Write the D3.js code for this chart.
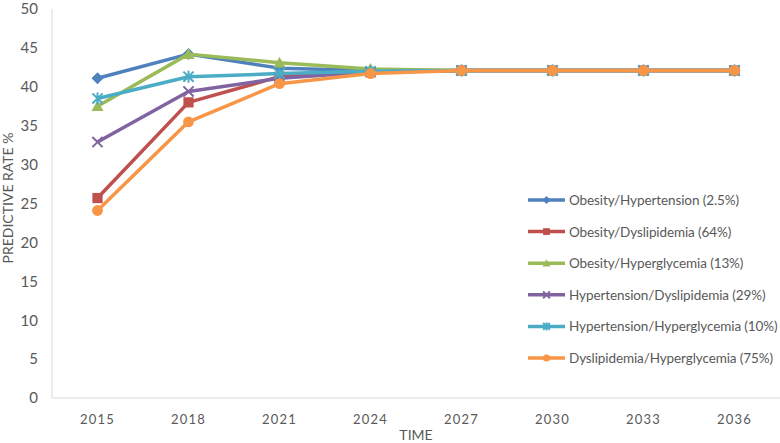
<!DOCTYPE html>
<html>
<head>
<meta charset="utf-8">
<script src="https://cdn.jsdelivr.net/npm/d3@7"></script>
<style>
  body { margin: 0; background: #fff; }
  text { font-family: Lato, "Open Sans", sans-serif; fill: #595959; }
</style>
</head>
<body>
<svg id="chart" width="780" height="443"></svg>
<script>
// chart data
var years = ["2015", "2018", "2021", "2024", "2027", "2030", "2033", "2036"];
var seriesNames = [
  "Obesity/Hypertension (2.5%)",
  "Obesity/Dyslipidemia (64%)",
  "Obesity/Hyperglycemia (13%)",
  "Hypertension/Dyslipidemia (29%)",
  "Hypertension/Hyperglycemia (10%)",
  "Dyslipidemia/Hyperglycemia (75%)"
];
var obesityHypertension = [41.1, 44.2, 42.4, 42.1, 42.1, 42.1, 42.1, 42.1];
var obesityDyslipidemia = [25.7, 38.0, 41.3, 41.9, 42.1, 42.1, 42.1, 42.1];
var obesityHyperglycemia = [37.5, 44.2, 43.1, 42.3, 42.1, 42.1, 42.1, 42.1];
var hypertensionDyslipidemia = [32.9, 39.4, 41.1, 41.9, 42.1, 42.1, 42.1, 42.1];
var hypertensionHyperglycemia = [38.5, 41.3, 41.7, 42.0, 42.1, 42.1, 42.1, 42.1];
var dyslipidemiaHyperglycemia = [24.1, 35.5, 40.4, 41.7, 42.1, 42.1, 42.1, 42.1];
var yTicks = [0, 5, 10, 15, 20, 25, 30, 35, 40, 45, 50];

var allValues = [obesityHypertension, obesityDyslipidemia, obesityHyperglycemia,
  hypertensionDyslipidemia, hypertensionHyperglycemia, dyslipidemiaHyperglycemia];
var colors = ["#4F81BD", "#C0504D", "#9BBB59", "#8064A2", "#4BACC6", "#F79646"];
var symbols = ["diamond", "square", "triangle", "x", "asterisk", "circle"];

var plotLeft = 52, plotRight = 780, plotTop = 9, plotBottom = 398;

var svg = d3.select("#chart");

var xScale = d3.scaleBand().domain(years).range([plotLeft, plotRight]);
var yScale = d3.scaleLinear().domain([0, 50]).range([plotBottom, plotTop]);

// axes
svg.append("line")
  .attr("x1", plotLeft).attr("x2", plotLeft)
  .attr("y1", plotTop).attr("y2", plotBottom)
  .attr("stroke", "#d9d9d9").attr("stroke-width", 1);
svg.append("line")
  .attr("x1", plotLeft).attr("x2", plotRight)
  .attr("y1", plotBottom).attr("y2", plotBottom)
  .attr("stroke", "#d9d9d9").attr("stroke-width", 1);

var yAxis = svg.append("g")
  .attr("transform", "translate(" + plotLeft + ",0)")
  .call(d3.axisLeft(yScale).tickValues(yTicks).tickSize(0).tickPadding(14));
yAxis.select(".domain").remove();
yAxis.selectAll("text")
  .style("font-size", "15px")
  .style("font-family", "Lato, sans-serif")
  .attr("fill", "#595959");

var xAxis = svg.append("g")
  .attr("transform", "translate(0," + plotBottom + ")")
  .call(d3.axisBottom(xScale).tickSize(0).tickPadding(17));
xAxis.select(".domain").remove();
xAxis.selectAll("text")
  .style("font-size", "13px")
  .style("letter-spacing", "1.2px")
  .style("font-family", "Lato, sans-serif")
  .attr("fill", "#595959");

svg.append("text")
  .attr("x", (plotLeft + plotRight) / 2).attr("y", 440)
  .attr("text-anchor", "middle")
  .style("font-size", "14px")
  .text("TIME");

svg.append("text")
  .attr("transform", "translate(13,198) rotate(-90)")
  .attr("text-anchor", "middle")
  .style("font-size", "14px")
  .text("PREDICTIVE RATE %");

function drawMarker(g, type, x, y, size, color) {
  var s = size;
  if (type === "diamond") {
    g.append("path")
      .attr("d", "M" + x + "," + (y - s) + "L" + (x + s) + "," + y + "L" + x + "," + (y + s) + "L" + (x - s) + "," + y + "Z")
      .attr("fill", color);
  } else if (type === "square") {
    g.append("rect").attr("x", x - s * 0.85).attr("y", y - s * 0.85)
      .attr("width", s * 1.7).attr("height", s * 1.7).attr("fill", color);
  } else if (type === "triangle") {
    g.append("path")
      .attr("d", "M" + x + "," + (y - s) + "L" + (x + s) + "," + (y + s * 0.8) + "L" + (x - s) + "," + (y + s * 0.8) + "Z")
      .attr("fill", color);
  } else if (type === "x") {
    var d = s * 0.85;
    g.append("path")
      .attr("d", "M" + (x - d) + "," + (y - d) + "L" + (x + d) + "," + (y + d) + "M" + (x + d) + "," + (y - d) + "L" + (x - d) + "," + (y + d))
      .attr("stroke", color).attr("stroke-width", 2).attr("fill", "none");
  } else if (type === "asterisk") {
    var a = s * 0.85;
    g.append("path")
      .attr("d", "M" + (x - a) + "," + (y - a) + "L" + (x + a) + "," + (y + a) + "M" + (x + a) + "," + (y - a) + "L" + (x - a) + "," + (y + a) +
        "M" + x + "," + (y - s) + "L" + x + "," + (y + s))
      .attr("stroke", color).attr("stroke-width", 2).attr("fill", "none");
  } else {
    g.append("circle").attr("cx", x).attr("cy", y).attr("r", s * 0.9).attr("fill", color);
  }
}

var line = d3.line()
  .x(function(d, i) { return xScale(years[i]) + xScale.bandwidth() / 2; })
  .y(function(d) { return yScale(d); });

allValues.forEach(function(vals, k) {
  var g = svg.append("g");
  g.append("path")
    .datum(vals)
    .attr("d", line)
    .attr("fill", "none")
    .attr("stroke", colors[k])
    .attr("stroke-width", 3.5)
    .attr("stroke-linejoin", "round");
  vals.forEach(function(v, i) {
    drawMarker(g, symbols[k], xScale(years[i]) + xScale.bandwidth() / 2, yScale(v), 6, colors[k]);
  });
});

// legend
var legend = svg.append("g").attr("transform", "translate(528,200)");
seriesNames.forEach(function(name, k) {
  var row = legend.append("g").attr("transform", "translate(0," + (k * 31.6) + ")");
  row.append("line").attr("x1", 0).attr("x2", 37).attr("y1", 0).attr("y2", 0)
    .attr("stroke", colors[k]).attr("stroke-width", 3.5);
  drawMarker(row, symbols[k], 18.5, 0, 4, colors[k]);
  row.append("text").attr("x", 41).attr("y", 5)
    .style("font-size", "13.5px")
    .style("letter-spacing", "-0.1px")
    .text(name);
});
</script>
</body>
</html>
